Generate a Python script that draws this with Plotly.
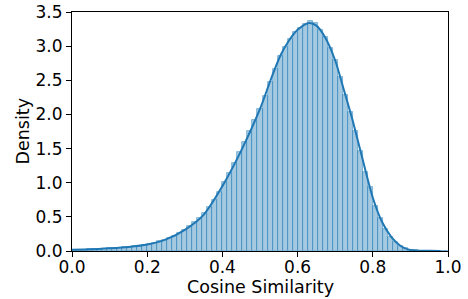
import numpy as np
import plotly.graph_objects as go

# Histogram: 75 equal bins on [0, 1], density values
bin_start = 0.0
bin_end = 1.0
n_bins = 75
bar_density = [
    0.02, 0.02, 0.02, 0.025, 0.03, 0.03, 0.035, 0.04, 0.045, 0.05,
    0.055, 0.06, 0.07, 0.08, 0.09, 0.10, 0.12, 0.14, 0.16, 0.19,
    0.22, 0.26, 0.31, 0.36, 0.42, 0.48, 0.55, 0.64, 0.74, 0.86,
    1.01, 1.14, 1.29, 1.45, 1.60, 1.76, 1.92, 2.08, 2.27, 2.47,
    2.67, 2.85, 2.99, 3.11, 3.20, 3.27, 3.32, 3.37, 3.34, 3.24,
    3.13, 2.97, 2.79, 2.55, 2.29, 2.03, 1.76, 1.47, 1.16, 0.93,
    0.66, 0.48, 0.32, 0.21, 0.13, 0.075, 0.04, 0.015, 0.008, 0.005,
    0.003, 0.002, 0.001, 0.0005, 0.0002,
]

# KDE curve
kde_x = [0.0, 0.05, 0.1, 0.15, 0.2, 0.25, 0.3, 0.35, 0.4, 0.45, 0.5, 0.53,
         0.555, 0.578, 0.6, 0.631, 0.65, 0.673, 0.7, 0.722, 0.745, 0.767,
         0.8, 0.825, 0.85, 0.875, 0.9, 0.95, 0.98]
kde_y = [0.02, 0.025, 0.04, 0.06, 0.095, 0.17, 0.31, 0.53, 0.95, 1.47, 2.08, 2.53,
         2.87, 3.09, 3.24, 3.34, 3.30, 3.13, 2.79, 2.38, 1.94, 1.47,
         0.78, 0.42, 0.20, 0.07, 0.015, 0.002, 0.0]

x_ticks = [0.0, 0.2, 0.4, 0.6, 0.8, 1.0]
y_ticks = [0.0, 0.5, 1.0, 1.5, 2.0, 2.5, 3.0, 3.5]
x_title = "Cosine Similarity"
y_title = "Density"

edges = np.linspace(bin_start, bin_end, n_bins + 1)
centers = (edges[:-1] + edges[1:]) / 2
width = (bin_end - bin_start) / n_bins

fig = go.Figure()
fig.add_trace(go.Bar(
    x=centers, y=bar_density, width=width,
    marker=dict(color="rgba(31,119,180,0.4)",
                line=dict(color="rgba(31,119,180,0.55)", width=0.8)),
    showlegend=False, hoverinfo="skip",
))
fig.add_trace(go.Scatter(
    x=kde_x, y=kde_y, mode="lines",
    line=dict(color="#1f77b4", width=2, shape="spline", smoothing=0.8),
    showlegend=False, hoverinfo="skip",
))

tick_font = dict(family="DejaVu Sans", size=17, color="black")
title_font = dict(family="DejaVu Sans", size=17.5, color="black")
axis_common = dict(showline=True, linecolor="black", linewidth=1.2, mirror=True,
                   ticks="outside", ticklen=5, tickwidth=1.2, tickcolor="black",
                   showgrid=False, zeroline=False, automargin=False,
                   tickfont=tick_font)
fig.update_layout(
    width=468, height=299,
    margin=dict(l=72, r=20, t=12, b=48),
    paper_bgcolor="white", plot_bgcolor="white",
    bargap=0, font=tick_font,
    xaxis=dict(range=[0, 1], tickvals=x_ticks,
               ticktext=[f"{v:.1f}" for v in x_ticks], ticklabelstandoff=-5,
               **axis_common),
    yaxis=dict(range=[0, 3.5], tickvals=y_ticks,
               ticktext=[f"{v:.1f}" for v in y_ticks], **axis_common),
    annotations=[
        dict(text=x_title, x=0.5, y=0, xref="paper", yref="paper",
             xanchor="center", yanchor="middle", yshift=-36, showarrow=False,
             font=title_font),
        dict(text=y_title, x=0, y=0.5, xref="paper", yref="paper",
             xanchor="center", yanchor="middle", xshift=-50, textangle=-90,
             showarrow=False, font=title_font),
    ],
)

fig.write_html("out.html", config={"displayModeBar": False},
               post_script="document.body.style.margin='0';"
                           "document.body.style.overflow='hidden';")
